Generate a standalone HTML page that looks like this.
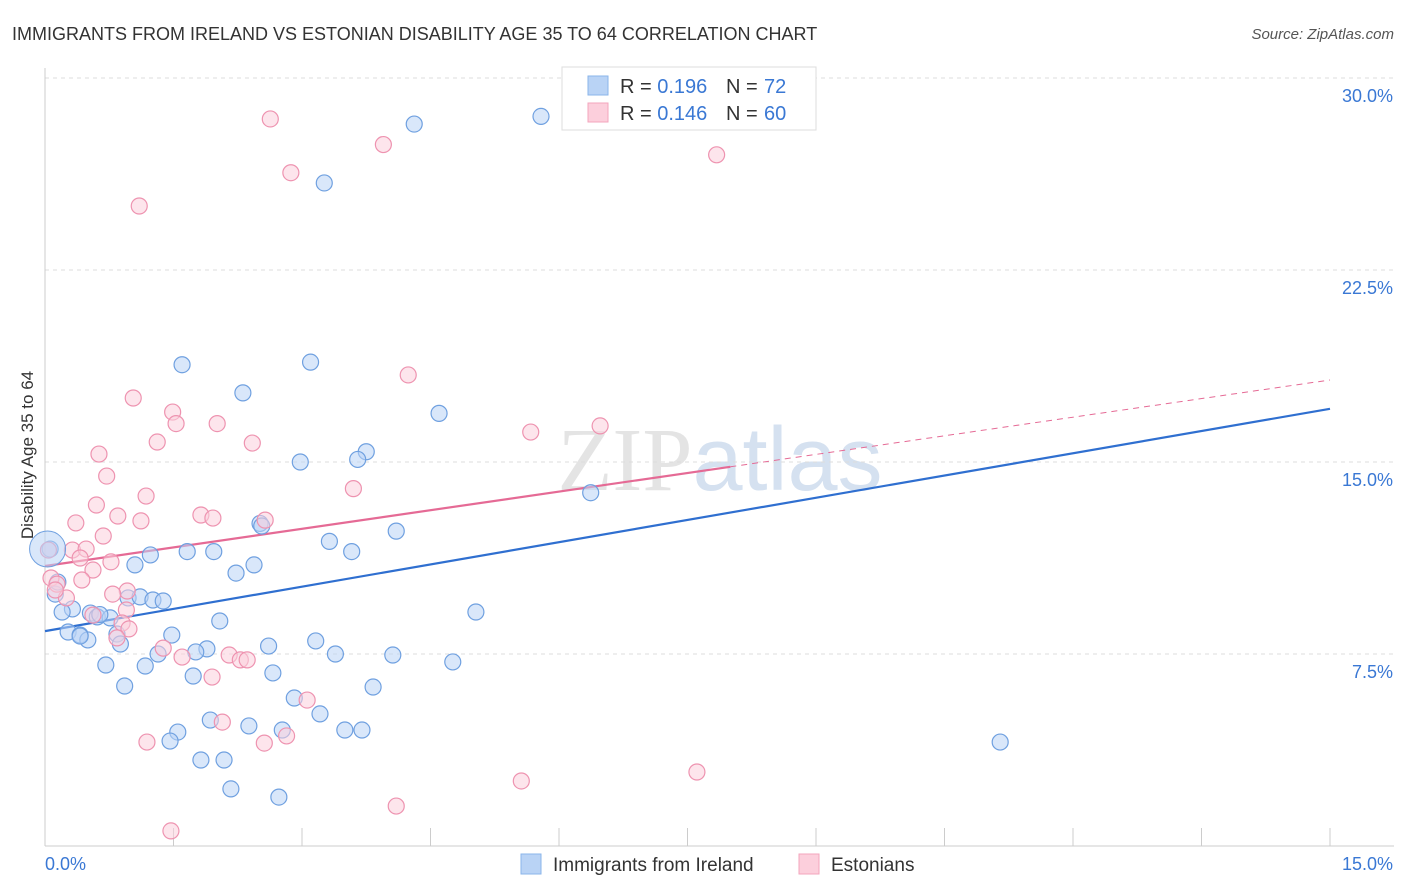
<!DOCTYPE html>
<html><head><meta charset="utf-8"><style>
body{margin:0;background:#fff;font-family:"Liberation Sans",sans-serif;}
svg{display:block}
</style></head><body>
<svg id="chart" width="1406" height="892">
<text x="12" y="40" font-size="18" fill="#333">IMMIGRANTS FROM IRELAND VS ESTONIAN DISABILITY AGE 35 TO 64 CORRELATION CHART</text>
<text x="1394" y="39" font-size="15" fill="#555" font-style="italic" text-anchor="end">Source: ZipAtlas.com</text>
<text x="720" y="490" font-size="90" fill="#e4e4e4" text-anchor="middle" font-family="Liberation Serif">ZIP<tspan fill="#d5e1f0" font-family="Liberation Sans">atlas</tspan></text>
<g id="grid"></g>
<g id="axes"></g>
<g id="lines"></g>
<g id="points"></g>
<text transform="translate(33,455) rotate(-90)" font-size="17" fill="#333" text-anchor="middle">Disability Age 35 to 64</text>
<g>
<rect x="562" y="67" width="254" height="63" fill="#fff" stroke="#ddd"/>
<rect x="588" y="76" width="20" height="19" fill="#b9d3f5" stroke="#8ab4ea"/>
<rect x="588" y="103" width="20" height="19" fill="#fccfdc" stroke="#f3a6bd"/>
<text x="620" y="93" font-size="20" fill="#333">R = <tspan fill="#3a78d4">0.196</tspan><tspan x="726">N = </tspan><tspan fill="#3a78d4" x="764">72</tspan></text>
<text x="620" y="120" font-size="20" fill="#333">R = <tspan fill="#3a78d4">0.146</tspan><tspan x="726">N = </tspan><tspan fill="#3a78d4" x="764">60</tspan></text>
</g>
<g>
<rect x="521" y="854" width="20" height="20" fill="#b9d3f5" stroke="#8ab4ea"/>
<text x="553" y="871" font-size="19" fill="#333">Immigrants from Ireland</text>
<rect x="799" y="854" width="20" height="20" fill="#fccfdc" stroke="#f3a6bd"/>
<text x="831" y="871" font-size="19" fill="#333">Estonians</text>
</g>
</svg>
<script>
const yTicks=[7.5,15,22.5,30];
const yTickLabels=["7.5%","15.0%","22.5%","30.0%"];
const xTickLabels=["0.0%","15.0%"];
const blueX=[5.79,4.31,3.26,1.6,3.1,2.31,4.6,3.75,3.65,2.98,6.37,2.51,2.53,4.1,3.32,3.58,1.66,1.97,1.23,1.05,2.44,2.23,0.12,0.32,0.2,0.97,1.11,1.26,1.38,0.53,0.61,0.76,2.04,5.03,0.27,0.41,0.5,1.48,0.84,0.88,2.61,3.16,1.89,1.76,1.32,3.39,4.06,4.76,0.71,1.17,2.66,1.73,0.93,3.83,2.91,3.21,1.93,2.38,2.77,3.5,3.7,1.55,1.46,11.15,1.82,2.09,2.17,2.73,0.06,0.15,0.41,0.64];
const blueY=[28.5,28.2,25.9,18.8,18.9,17.7,16.9,15.4,15.1,15.0,13.8,12.6,12.5,12.3,11.9,11.5,11.5,11.5,11.37,10.98,10.98,10.66,9.84,9.26,9.14,9.69,9.73,9.61,9.57,9.1,8.95,8.91,8.79,9.14,8.36,8.24,8.05,8.24,8.28,7.89,7.81,8.01,7.7,7.58,7.5,7.5,7.46,7.19,7.07,7.03,6.76,6.64,6.25,6.21,5.78,5.16,4.92,4.69,4.53,4.53,4.53,4.45,4.1,4.06,3.36,3.36,2.23,1.91,11.6,10.31,8.2,9.04];
const pinkX=[2.63,3.95,2.87,7.84,1.1,4.24,1.03,1.49,1.53,2.01,1.31,2.42,6.48,5.67,0.63,0.72,3.6,1.18,0.6,1.82,1.96,0.85,1.12,0.36,2.57,0.68,0.32,0.48,0.41,0.77,0.56,0.07,0.14,0.43,0.96,0.79,0.25,0.95,0.9,0.98,0.84,1.38,1.6,2.15,2.28,2.36,1.95,3.06,2.07,2.82,1.19,2.56,5.56,7.61,4.1,1.47,0.04,0.12,0.56];
const pinkY=[28.4,27.4,26.3,27.0,25.0,18.4,17.5,16.95,16.5,16.5,15.78,15.74,16.41,16.17,15.31,14.45,13.96,13.67,13.32,12.93,12.81,12.89,12.7,12.62,12.73,12.11,11.56,11.6,11.25,11.1,10.78,10.47,10.23,10.39,9.96,9.84,9.69,9.22,8.71,8.48,8.13,7.73,7.38,7.46,7.27,7.27,6.6,5.7,4.84,4.3,4.06,4.02,2.54,2.89,1.56,0.59,11.56,10.0,9.02];
const S="http://www.w3.org/2000/svg";
const X0=45,X1=1330,XMAX=15,Y0=846,PPY=25.6;
const xs=v=>X0+v/XMAX*(X1-X0), ys=v=>Y0-v*PPY;
function mk(t,a,p){const e=document.createElementNS(S,t);for(const k in a)e.setAttribute(k,a[k]);p.appendChild(e);return e;}
const grid=document.getElementById('grid'),axes=document.getElementById('axes'),lines=document.getElementById('lines'),pts=document.getElementById('points');
yTicks.forEach((t,i)=>{
 const l=mk('line',{x1:X0,x2:1394,y1:ys(t),y2:ys(t),stroke:'#ddd','stroke-dasharray':'4,4'},grid);
 
 
 const tx=mk('text',{x:1393,y:ys(t)+24,'font-size':18,fill:'#3a78d4','text-anchor':'end'},axes);
 tx.textContent=yTickLabels[i];
 
 
});
mk('line',{x1:X0,x2:X0,y1:68,y2:846,stroke:'#ccc'},axes);
mk('line',{x1:X0,x2:1394,y1:846,y2:846,stroke:'#ccc'},axes);
for(let i=0;i<=10;i++){const x=X0+i*(X1-X0)/10;mk('line',{x1:x,x2:x,y1:828,y2:846,stroke:'#ccc'},axes);}
[[X0,'start',0],[1393,'end',1]].forEach(([x,a,i])=>{const t=mk('text',{x:x,y:870,'font-size':18,fill:'#3a78d4','text-anchor':a},axes);t.textContent=xTickLabels[i];});
function fit(X,Y){const n=X.length;let mx=0,my=0;X.forEach((v,i)=>{mx+=v;my+=Y[i];});mx/=n;my/=n;let sxy=0,sxx=0;X.forEach((v,i)=>{sxy+=(v-mx)*(Y[i]-my);sxx+=(v-mx)**2;});const b=sxy/sxx;return [my-b*mx,b];}
function draw(X,Y,fill,stroke,name){X.forEach((v,i)=>{const c=mk('circle',{cx:xs(v),cy:ys(Y[i]),r:8,fill:fill,'fill-opacity':0.55,stroke:stroke,'stroke-width':1.2},pts);});}
draw(blueX,blueY,'#b9d3f5','#6fa0e0','point-ireland');
draw(pinkX,pinkY,'#fccfdc','#ee93b0','point-estonians');
const big=mk('circle',{cx:xs(0.03),cy:ys(11.6),r:18,fill:'#b9d3f5','fill-opacity':0.55,stroke:'#6fa0e0'},pts);


const [ab,bb]=fit(blueX,blueY),[ap,bp]=fit(pinkX,pinkY);
const bl=mk('line',{x1:xs(0),y1:ys(ab),x2:xs(15),y2:ys(ab+bb*15),stroke:'#2f6fd0','stroke-width':2.2},lines);


const pl=mk('line',{x1:xs(0),y1:ys(ap),x2:xs(8),y2:ys(ap+bp*8),stroke:'#e56a95','stroke-width':2.2},lines);


const pd=mk('line',{x1:xs(8),y1:ys(ap+bp*8),x2:xs(15),y2:ys(ap+bp*15),stroke:'#e56a95','stroke-width':1,'stroke-dasharray':'6,5'},lines);


</script>
</body></html>
